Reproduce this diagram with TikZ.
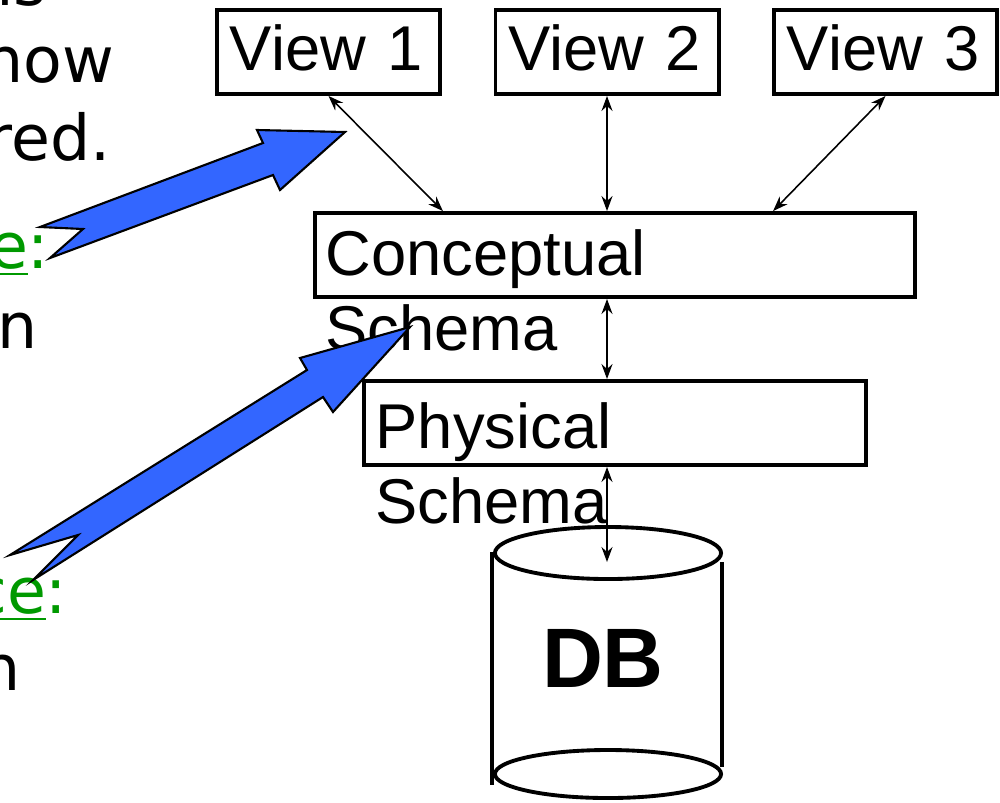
\documentclass[tikz,border=0pt]{standalone}
\usepackage{fontspec}
\setmainfont{Liberation Sans}
\newfontfamily\notefont{DejaVu Sans}
\usetikzlibrary{arrows.meta}
\definecolor{linkgreen}{RGB}{0,153,0}
\definecolor{callblue}{RGB}{51,102,255}

\begin{document}
\begin{tikzpicture}[x=0.01cm,y=-0.01cm,
  view box/.style={draw,line width=1.1pt,minimum width=2.23cm,minimum height=0.84cm,
    text width=1.97cm,align=left,text depth=0.08cm,inner sep=0pt,
    font=\fontsize{18pt}{21.3pt}\selectfont},
  schema box/.style={draw,line width=1.1pt,minimum height=0.84cm,inner sep=0pt},
  schema text/.style={anchor=north west,align=left,inner sep=0pt,
    font=\fontsize{18pt}{21.3pt}\selectfont},
  note/.style={anchor=base east,inner sep=0pt,font=\notefont\fontsize{18pt}{21.6pt}\selectfont},
  link/.style={<->,>={Stealth[length=1.5mm,width=1.1mm,inset=0.5mm]},line width=0.45pt},
  drum/.style={line width=1.1pt},
  callout/.style={draw=black,line width=0.6pt,fill=callblue,line join=miter}]

  \useasboundingbox (0,0) rectangle (1000,802);
  \clip (0,0) rectangle (1000,802);

  % text running in from the left
  \node[note] (t1) at (47,5) {ns};
  \node[note] (t2) at (115,82) {how};
  \node[note] (t3) at (111,160) {red.};
  \node[note,text=linkgreen] (t4) at (50,268) {\underline{e}:};
  \node[note] (t5) at (38,348) {n};
  \node[note,text=linkgreen] (t6) at (68,613) {\underline{ce}:};
  \node[note] (t7) at (21,690) {n};

  % views
  \node[view box] (view1) at (328.5,52) {View 1};
  \node[view box] (view2) at (607,52) {View 2};
  \node[view box] (view3) at (885.5,52) {View 3};

  % schema levels
  \node[schema box,minimum width=6cm] (concept) at (615,255) {};
  \node[schema box,minimum width=5.02cm] (physical) at (615,423) {};
  \node[schema text] (concepttext) at (325,229) {Conceptual\\Schema};
  \node[schema text] (physicaltext) at (375,402) {Physical\\Schema};

  % the disk
  \draw[drum] (608,553) ellipse [x radius=1.13cm, y radius=0.26cm];
  \draw[drum] (608,774) ellipse [x radius=1.13cm, y radius=0.24cm];
  \draw[drum] (492,552) -- (492,785);
  \draw[drum] (722,562) -- (722,767);
  \node[font=\fontsize{24pt}{28pt}\selectfont\bfseries] (db) at (603,658) {DB};
  \coordinate (dbtop) at (607,562);

  \path[link]
   (view1.south) edge ([xshift=-1.72cm]concept.north)
   (view2.south) edge (concept.north -| view2.south)
   (view3.south) edge ([xshift=1.58cm]concept.north)
   (concept.south -| view2.south) edge (physical.north -| view2.south)
   (physical.south -| view2.south) edge (dbtop);

  % blue callouts
  \draw[callout] (40,227) -- (83,229) -- (50,258) -- (273,175) -- (280,190)
    -- (345,132) -- (257,130) -- (263,143) -- cycle;
  \draw[callout] (10,555) -- (78,535) -- (33,580) -- (323,397) -- (333,412)
    -- (410,327) -- (300,358) -- (307,370) -- cycle;

\end{tikzpicture}
\end{document}
